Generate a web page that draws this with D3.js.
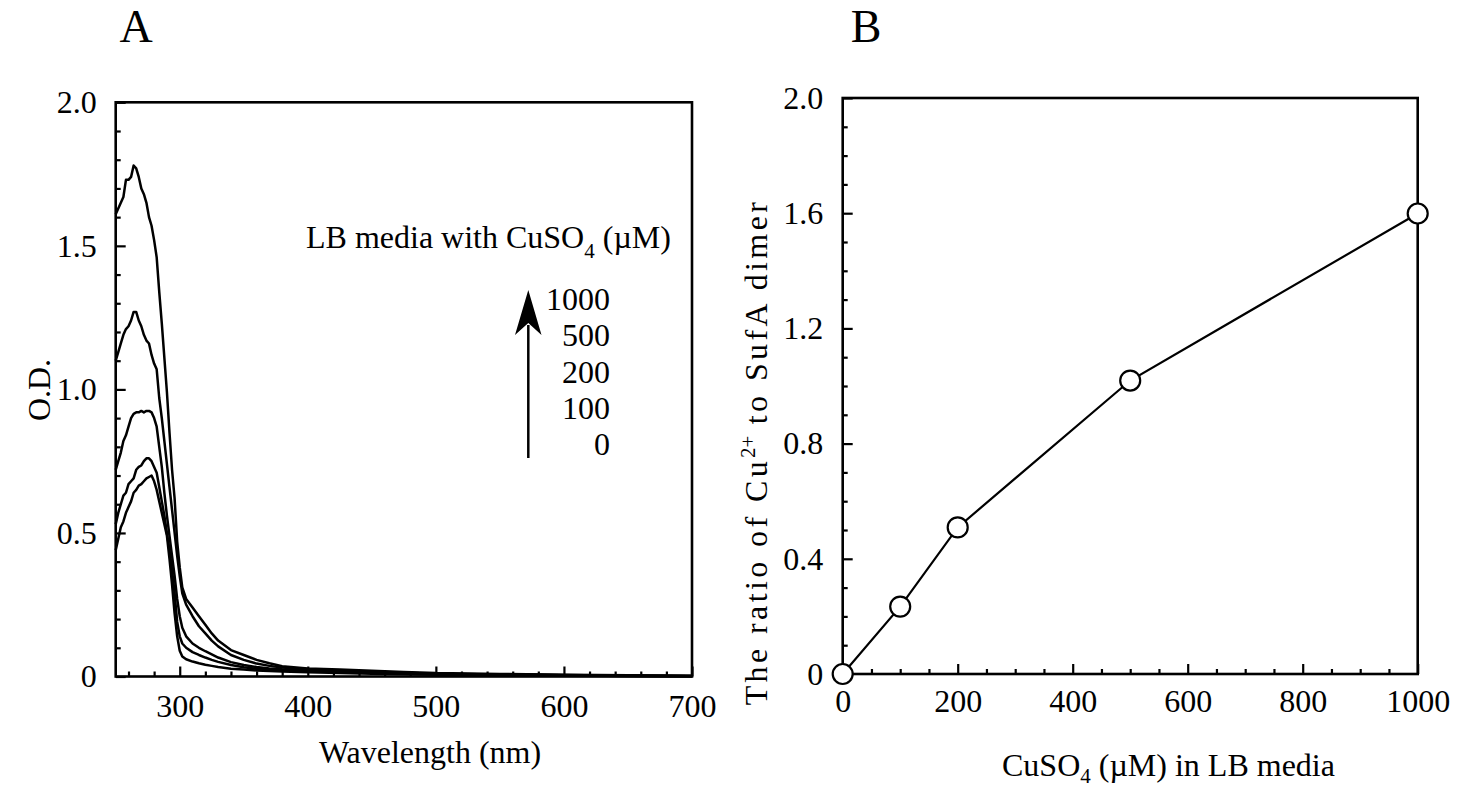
<!DOCTYPE html>
<html>
<head>
<meta charset="utf-8">
<script src="https://cdn.jsdelivr.net/npm/d3@7"></script>
<style>
  html, body { margin: 0; padding: 0; background: #fff; }
  svg { display: block; }
  text { font-family: "Liberation Serif", "Times New Roman", serif; fill: #000; }
</style>
</head>
<body>
<svg id="chart" width="1467" height="790"></svg>
<script>
// ---------- Panel A data: absorption spectra ----------
const wavelengths = [250,252,254,256,258,260,262,264,266,268,270,272,274,276,278,280,282,284,286,288,290,292,294,296,298,300,302,305,310,315,320,325,330,340,350,360,370,380,400,425,450,475,500,550,600,650,700];
const od1000 = [1.61,1.63,1.65,1.67,1.73,1.73,1.74,1.78,1.77,1.74,1.70,1.68,1.65,1.60,1.57,1.52,1.46,1.34,1.23,1.11,0.99,0.85,0.72,0.62,0.47,0.38,0.31,0.27,0.24,0.21,0.18,0.15,0.125,0.092,0.075,0.058,0.046,0.036,0.028,0.024,0.020,0.016,0.012,0.009,0.006,0.004,0.003];
const od500  = [1.10,1.13,1.16,1.19,1.21,1.22,1.24,1.27,1.27,1.24,1.22,1.19,1.17,1.16,1.12,1.09,1.07,0.97,0.90,0.82,0.74,0.66,0.58,0.50,0.42,0.35,0.29,0.25,0.21,0.175,0.15,0.125,0.105,0.075,0.058,0.045,0.037,0.031,0.025,0.020,0.017,0.013,0.010,0.007,0.005,0.003,0.002];
const od200  = [0.72,0.75,0.78,0.82,0.84,0.87,0.90,0.915,0.92,0.92,0.925,0.92,0.925,0.925,0.92,0.90,0.87,0.80,0.73,0.64,0.56,0.49,0.42,0.35,0.27,0.21,0.17,0.14,0.115,0.10,0.088,0.077,0.066,0.050,0.040,0.033,0.028,0.025,0.022,0.018,0.015,0.012,0.009,0.006,0.004,0.003,0.002];
const od100  = [0.53,0.57,0.60,0.63,0.64,0.67,0.68,0.69,0.72,0.73,0.735,0.75,0.76,0.76,0.75,0.73,0.71,0.66,0.61,0.56,0.50,0.44,0.37,0.29,0.19,0.14,0.115,0.10,0.085,0.075,0.066,0.058,0.051,0.040,0.032,0.027,0.023,0.021,0.018,0.015,0.013,0.010,0.008,0.005,0.004,0.002,0.001];
const od0    = [0.44,0.48,0.52,0.54,0.57,0.59,0.61,0.64,0.65,0.665,0.67,0.68,0.69,0.695,0.70,0.68,0.65,0.61,0.57,0.53,0.49,0.41,0.32,0.22,0.14,0.09,0.07,0.06,0.052,0.046,0.041,0.037,0.033,0.027,0.024,0.021,0.019,0.017,0.015,0.012,0.010,0.008,0.006,0.004,0.003,0.002,0.001];
const spectraSeries = [od1000, od500, od200, od100, od0];
const legendLabels = ["1000", "500", "200", "100", "0"];

const xTicksA = [300, 400, 500, 600, 700];
const yTicksA = [0, 0.5, 1.0, 1.5, 2.0];
const yTickLabelsA = ["0", "0.5", "1.0", "1.5", "2.0"];

// ---------- Panel B data: Cu ratio ----------
const cuConc = [0, 100, 200, 500, 1000];
const cuRatio = [0, 0.234, 0.509, 1.019, 1.599];
const xTicksB = [0, 200, 400, 600, 800, 1000];
const yTicksB = [0, 0.4, 0.8, 1.2, 1.6, 2.0];
const yTickLabelsB = ["0", "0.4", "0.8", "1.2", "1.6", "2.0"];

const svg = d3.select("#chart");
const FS = 32;

function inwardAxes(g, x, y, xMajor, xMinor, yMajor, yMinor, yLabels, xPad, yPad) {
  const [x0, x1] = x.range();
  const [y0, y1] = y.range();
  g.append("g").attr("transform", `translate(0,${y0})`)
    .call(d3.axisBottom(x).tickValues(xMinor).tickSize(-5).tickFormat(""))
    .call(a => a.select(".domain").remove());
  g.append("g").attr("transform", `translate(0,${y0})`)
    .call(d3.axisBottom(x).tickValues(xMajor).tickSize(-10).tickPadding(xPad).tickFormat(d3.format("d")))
    .call(a => a.select(".domain").remove())
    .call(a => a.selectAll("text").style("font-size", FS + "px"));
  g.append("g").attr("transform", `translate(${x0},0)`)
    .call(d3.axisLeft(y).tickValues(yMinor).tickSize(-5).tickFormat(""))
    .call(a => a.select(".domain").remove());
  g.append("g").attr("transform", `translate(${x0},0)`)
    .call(d3.axisLeft(y).tickValues(yMajor).tickSize(-10).tickPadding(yPad).tickFormat((d, i) => yLabels[i]))
    .call(a => a.select(".domain").remove())
    .call(a => a.selectAll("text").style("font-size", FS + "px"));
  g.selectAll(".tick line").attr("stroke", "#000").attr("stroke-width", 2.2);
  g.append("rect").attr("x", x0).attr("y", y1).attr("width", x1 - x0).attr("height", y0 - y1)
    .attr("fill", "none").attr("stroke", "#000").attr("stroke-width", 2.6);
}

// ---------- Panel A ----------
const xA = d3.scaleLinear().domain([250, 700]).range([115.7, 692]);
const yA = d3.scaleLinear().domain([0, 2]).range([676.5, 102.3]);
const gA = svg.append("g");

const xMinorA = d3.range(260, 700, 20).filter(v => v % 100 !== 0);
const yMinorA = d3.range(1, 20).map(v => v / 10).filter(v => Math.abs(v * 2 - Math.round(v * 2)) > 1e-6);

const lineA = d3.line().x((d, i) => xA(wavelengths[i])).y(d => yA(d));
gA.selectAll("path.spec").data(spectraSeries).join("path")
  .attr("class", "spec")
  .attr("d", d => lineA(d))
  .attr("fill", "none").attr("stroke", "#000").attr("stroke-width", 2.5).attr("stroke-linejoin", "round");

inwardAxes(gA, xA, yA, xTicksA, xMinorA, yTicksA, yMinorA, yTickLabelsA, 17.3, 19);

gA.append("text").attr("x", 136).attr("y", 42).attr("text-anchor", "middle").style("font-size", "46px").text("A");
gA.append("text").attr("transform", "translate(50,390) rotate(-90)").attr("text-anchor", "middle")
  .style("font-size", FS + "px").text("O.D.");
gA.append("text").attr("x", 430).attr("y", 763).attr("text-anchor", "middle")
  .style("font-size", FS + "px").text("Wavelength (nm)");

// legend
const leg = gA.append("text").attr("x", 306).attr("y", 248).style("font-size", FS + "px");
leg.append("tspan").text("LB media with CuSO");
leg.append("tspan").attr("dy", 10).style("font-size", "21px").text("4");
leg.append("tspan").attr("dy", -10).text(" (\u00B5M)");

const legY = d3.scalePoint().domain(legendLabels).range([310, 455]);
gA.selectAll("text.leg").data(legendLabels).join("text")
  .attr("class", "leg").attr("x", 610).attr("y", d => legY(d))
  .attr("text-anchor", "end").style("font-size", FS + "px").text(d => d);

gA.append("line").attr("x1", 528.3).attr("x2", 528.3).attr("y1", 458).attr("y2", 325)
  .attr("stroke", "#000").attr("stroke-width", 2.5);
gA.append("path").attr("d", "M528.3,290 L541.5,335 L528.3,323 L515,335 Z").attr("fill", "#000");

// ---------- Panel B ----------
const xB = d3.scaleLinear().domain([0, 1000]).range([842.7, 1417.7]);
const yB = d3.scaleLinear().domain([0, 2]).range([674, 98]);
const gB = svg.append("g");

const xMinorB = d3.range(50, 1000, 50).filter(v => v % 200 !== 0);
const yMinorB = d3.range(1, 20).map(v => v / 10).filter(v => Math.abs(v / 0.4 - Math.round(v / 0.4)) > 1e-6);

inwardAxes(gB, xB, yB, xTicksB, xMinorB, yTicksB, yMinorB, yTickLabelsB, 15.3, 19.4);

const lineB = d3.line().x((d, i) => xB(cuConc[i])).y(d => yB(d));
gB.append("path").attr("d", lineB(cuRatio)).attr("fill", "none").attr("stroke", "#000").attr("stroke-width", 2.2);
gB.selectAll("circle").data(cuRatio).join("circle")
  .attr("cx", (d, i) => xB(cuConc[i])).attr("cy", d => yB(d)).attr("r", 10)
  .attr("fill", "#fff").attr("stroke", "#000").attr("stroke-width", 2.2);

gB.append("text").attr("x", 866).attr("y", 42).attr("text-anchor", "middle").style("font-size", "46px").text("B");

const yl = gB.append("text").attr("transform", "translate(767,452) rotate(-90)").attr("text-anchor", "middle")
  .style("font-size", FS + "px").style("letter-spacing", "3.4px");
yl.append("tspan").text("The ratio of Cu");
yl.append("tspan").attr("dy", -12).style("font-size", "21px").style("letter-spacing", "0px").text("2+");
yl.append("tspan").attr("dy", 12).text(" to SufA dimer");

const xl = gB.append("text").attr("x", 1002).attr("y", 776).style("font-size", FS + "px");
xl.append("tspan").text("CuSO");
xl.append("tspan").attr("dy", 7).style("font-size", "21px").text("4");
xl.append("tspan").attr("dy", -7).text(" (\u00B5M) in LB media");
</script>
</body>
</html>
